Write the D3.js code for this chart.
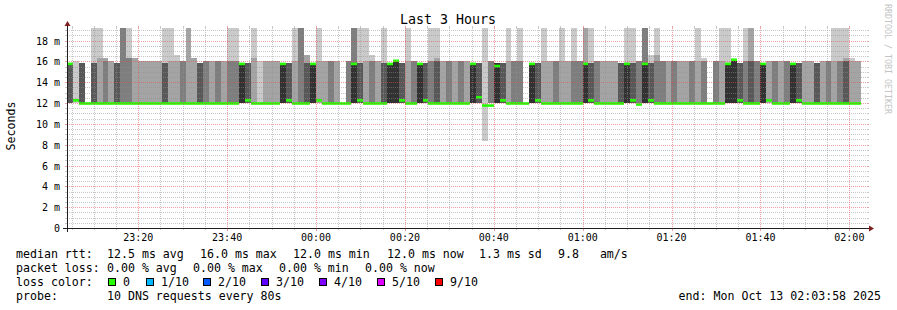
<!DOCTYPE html>
<html>
<head>
<meta charset="utf-8">
<script src="https://cdn.jsdelivr.net/npm/d3@7"></script>
<style>
  body { margin: 0; background: #fff; }
  text { font-family: "DejaVu Sans Mono", monospace; fill: #000; white-space: pre; }
</style>
</head>
<body>
<svg width="897" height="310"></svg>
<script>
// time range and probe
var endTime = new Date(2025, 9, 13, 2, 3, 58);
var startTime = new Date(endTime.getTime() - 3 * 3600 * 1000);
var stepSeconds = 80;
var pingCount = 10;
var floorRtt = 12.0;     // ms, where most replies land
var graphMax = 19.2;     // ms, top of the graph (taller smoke is clipped)

// replies per 80 s step that did NOT land on the 12 ms floor (ms); null = no data yet
var offFloor = [
  [15.8,15.8,15.8,15.8,15.8,15.8], [16], [15.8,15.8,15.8,15.8], [], [15.8,15.8,15.8,20],
  [16.3,20], [16,16.3,16.3], [16,16], [15.8,15.8,15.8,15.8], [20,20,20],
  [16.3,16.3,20], [16.3,16.3], [16,16], [16,16], [16,16],
  [16,16], [15.8,15.8,15.8,20], [16,20], [16,16.6], [16,16,16],
  [20,20], [16.3,16.3], [15.8,15.8,15.8,15.8], [16,16,16], [16,16],
  [16,16,16], [16,16], [16,16,20], [16,16,20], [15.8,15.8,15.8,15.8,15.8],
  [15.8,15.8,15.8,15.8], [16.3,20], [16], [16,16], [16,16],
  [16,16], [15.8,15.8,15.8,15.8,15.8], [15.8,15.8,15.8,15.8], [16,20], [20,20,20],
  [15.8,15.8,16.6,16.6], [15.8,15.8,15.8,15.8,15.8], [16,20], [16,16], [16,16,16],
  [16,16], [], [16,16,16], [15.8,15.8,20,20,20], [15.8,15.8,15.8,20],
  [16,20], [16,16,16.6], [16,16], [15.8,15.8,15.8,20], [15.8,15.8,15.8,15.8,15.8],
  [16.1,16.1,16.1,16.1,16.1], [15.8,15.8,15.8,15.8], [16,20], [16,16,16], [15.8,15.8,15.8,15.8,15.8],
  [15.8,15.8,15.8,15.8], [16,16,20], [16,16,16.3,20], [16,16], [16,16,16],
  [16,16], [16,16,16], [16,16], [15.8,15.8,15.8,15.8,15.8], [15.8,15.8,15.8,15.8],
  [8.4,20], [16,16,16], [15.8,15.8,15.8,15.8,15.8], [15.8,15.8,15.8,15.8], [16,20],
  [16,16,16], [16,16,20], [], [15.8,15.8,15.8,15.8,15.8], [15.8,15.8,15.8,15.8],
  [16,20], [16,16], [16,16,16], [16,20], [16,16],
  [16,16,20], [16,16,16], [15.8,15.8,15.8,20,20], [15.8,15.8,15.8,20], [16,16,16],
  [16,16], [16,16], [16,16], [15.8,15.8,15.8,15.8], [15.8,15.8,15.8,15.8,20],
  [15.8,15.8,15.8,20], [16,16,16], [15.8,15.8,20,20,20], [15.8,15.8,15.8,16.6], [16,16.6,20],
  [16,16,16], [16,16], [16,16,16], [16,16], [16,16],
  [16,16,16], [16,20], [16,16,16.3], [], [16,16,16],
  [16,20], [15.8,15.8,15.8,15.8,20], [16.2,16.2,16.2,16.2,16.2], [15.8,15.8,15.8,15.8], [16,16,20],
  [16,16,20,20], [16,16,16], [15.8,15.8,15.8,15.8,15.8], [16,16], [16,16,16],
  [16,16], [16,16,16], [15.8,15.8,15.8,15.8,15.8], [15.8,15.8,15.8,15.8], [16,16],
  [16,16], [15.8,15.8,15.8,15.8], [16,16], [16,16,16], [16,20],
  [16,16,20], [16,16,16.3,20], [16,16.3], [16,16], null
];

// median rtt per step (ms)
var medianRtt = [
  15.8,12.3,12,12,12,12,12,12,12,12,
  12,12,12,12,12,12,12,12,12,12,
  12,12,12,12,12,12,12,12,12,15.8,
  12.3,12,12,12,12,12,15.8,12.3,12,12,
  12,15.8,12.3,12,12,12,12,12,15.8,12.3,
  12,12,12,12,15.8,16.1,12.3,12,12,15.8,
  12.3,12,12,12,12,12,12,12,15.8,12.6,
  11.8,11.8,15.6,12.3,12,12,12,12,15.8,12.3,
  12,12,12,12,12,12,12,15.8,12.3,12,
  12,12,12,12,15.8,12.3,11.9,15.8,12.3,12,
  12,12,12,12,12,12,12,12,12,12,
  12,15.8,16.2,12.3,12,12,12,15.8,12.3,12,
  12,12,15.8,12.3,12,12,12,12,12,12,
  12,12,12,12,null
];

// axis labels
var yTicks = [0, 2, 4, 6, 8, 10, 12, 14, 16, 18];
var yTickLabels = ["0", "2 m", "4 m", "6 m", "8 m", "10 m", "12 m", "14 m", "16 m", "18 m"];

// legend
var rttStats = ["12.5 ms avg", "16.0 ms max", "12.0 ms min", "12.0 ms now", "1.3 ms sd", "9.8   am/s"];
var lossStats = ["0.00 % avg", "0.00 % max", "0.00 % min", "0.00 % now"];
var lossLabels = ["0", "1/10", "2/10", "3/10", "4/10", "5/10", "9/10"];
var lossColors = ["#26ff00", "#00b8ff", "#0059ff", "#5e00ff", "#7e00ff", "#dd00ff", "#ff0000"];
var probeText = "10 DNS requests every 80s";
var endText = "end: Mon Oct 13 02:03:58 2025";

// layout
var X0 = 67, X1 = 867, Y0 = 228, Y1 = 28;
var gridCol = "rgba(143,143,143,0.5)", mgridCol = "rgba(222,79,79,0.55)";

var svg = d3.select("svg");

// scales
var x = d3.scaleTime().domain([startTime, endTime]).range([X0, X1]);
var y = d3.scaleLinear().domain([0, graphMax]).range([Y0, Y1]);

// sorted pings per step
var steps = offFloor.map(function (list, k) {
  var t0 = new Date(startTime.getTime() + k * stepSeconds * 1000);
  var t1 = new Date(t0.getTime() + stepSeconds * 1000);
  if (!list) return { t0: t0, t1: t1, pings: null, median: null };
  var pings = list.slice();
  while (pings.length < pingCount) pings.push(floorRtt);
  pings.sort(d3.ascending);
  return { t0: t0, t1: t1, pings: pings, median: medianRtt[k] };
});

// smoke: pair i spans ping i .. ping (n-1-i), darker towards the middle
var half = pingCount / 2;
var smoke = [];
for (var i = 0; i < half; i++) {
  var c = Math.floor(190 / half * (half - (i + 1))) + 50;
  steps.forEach(function (s) {
    if (!s.pings) return;
    var lo = Math.min(s.pings[i], graphMax), hi = Math.min(s.pings[pingCount - 1 - i], graphMax);
    if (hi > lo) smoke.push({ s: s, lo: lo, hi: hi, col: d3.rgb(c, c, c) + "" });
  });
}

svg.append("g").selectAll("rect")
  .data(smoke)
  .enter().append("rect")
  .attr("x", function (d) { return Math.round(x(d.s.t0)); })
  .attr("width", function (d) { return Math.round(x(d.s.t1)) - Math.round(x(d.s.t0)); })
  .attr("y", function (d) { return Math.round(y(d.hi)); })
  .attr("height", function (d) { return Math.round(y(d.lo)) - Math.round(y(d.hi)); })
  .attr("fill", function (d) { return d.col; })
  .attr("shape-rendering", "crispEdges");

// median, coloured by loss (all 0 here)
svg.append("g").selectAll("rect")
  .data(steps.filter(function (s) { return s.median != null; }))
  .enter().append("rect")
  .attr("x", function (d) { return Math.round(x(d.t0)); })
  .attr("width", function (d) { return Math.round(x(d.t1)) - Math.round(x(d.t0)); })
  .attr("y", function (d) { return y(d.median) - 0.8; })
  .attr("height", 2.6)
  .attr("fill", lossColors[0]);

// horizontal grid
var grid = svg.append("g").attr("shape-rendering", "crispEdges");
var minorY = d3.range(0.5, graphMax, 0.5).filter(function (v) { return v % 2 !== 0; });
minorY.forEach(function (v) {
  var yy = Math.round(y(v)) + 0.5;
  grid.append("line").attr("x1", X0).attr("x2", X1).attr("y1", yy).attr("y2", yy)
    .attr("stroke", gridCol).attr("stroke-dasharray", "1,1");
  grid.append("line").attr("x1", X0 - 2).attr("x2", X0).attr("y1", yy).attr("y2", yy).attr("stroke", gridCol);
  grid.append("line").attr("x1", X1).attr("x2", X1 + 2).attr("y1", yy).attr("y2", yy).attr("stroke", gridCol);
});
yTicks.forEach(function (v) {
  var yy = Math.round(y(v)) + 0.5;
  if (v > 0) {
    grid.append("line").attr("x1", X0).attr("x2", X1).attr("y1", yy).attr("y2", yy)
      .attr("stroke", mgridCol).attr("stroke-dasharray", "1,1");
  }
  grid.append("line").attr("x1", X0 - 2).attr("x2", X0).attr("y1", yy).attr("y2", yy).attr("stroke", mgridCol);
  grid.append("line").attr("x1", X1).attr("x2", X1 + 2).attr("y1", yy).attr("y2", yy).attr("stroke", mgridCol);
});

// vertical grid: every 5 min, labelled every 20 min
var minorX = d3.timeMinute.every(5).range(startTime, endTime);
minorX.forEach(function (t) {
  var major = t.getMinutes() % 20 === 0;
  var xx = Math.round(x(t)) + 0.5;
  var col = major ? mgridCol : gridCol;
  grid.append("line").attr("x1", xx).attr("x2", xx).attr("y1", Y1).attr("y2", Y0)
    .attr("stroke", col).attr("stroke-dasharray", "1,1");
  grid.append("line").attr("x1", xx).attr("x2", xx).attr("y1", Y1 - 2).attr("y2", Y1).attr("stroke", col);
  grid.append("line").attr("x1", xx).attr("x2", xx).attr("y1", Y0).attr("y2", Y0 + (major ? 3 : 2)).attr("stroke", col);
});

// axes and arrows
svg.append("line").attr("x1", X0 - 4).attr("x2", X1 + 4).attr("y1", Y0 + 0.5).attr("y2", Y0 + 0.5)
  .attr("stroke", "#1f1f1f").attr("shape-rendering", "crispEdges");
svg.append("line").attr("x1", X0 + 0.5).attr("x2", X0 + 0.5).attr("y1", Y0 + 4).attr("y2", Y1 - 4)
  .attr("stroke", "#1f1f1f").attr("shape-rendering", "crispEdges");
svg.append("path").attr("d", d3.line()([[X1 + 2, Y0 - 2.5], [X1 + 2, Y0 + 3.5], [X1 + 7, Y0 + 0.5]]) + "Z")
  .attr("fill", "#801f1f");
svg.append("path").attr("d", d3.line()([[X0 - 2.5, Y1 - 2], [X0 + 3.5, Y1 - 2], [X0 + 0.5, Y1 - 7]]) + "Z")
  .attr("fill", "#801f1f");

// tick labels
svg.append("g").selectAll("text")
  .data(yTicks)
  .enter().append("text")
  .attr("x", 60).attr("y", function (d) { return y(d) + 4; })
  .attr("text-anchor", "end").attr("font-size", "10px")
  .text(function (d, i) { return yTickLabels[i]; });

svg.append("g").selectAll("text")
  .data(minorX.filter(function (t) { return t.getMinutes() % 20 === 0; }))
  .enter().append("text")
  .attr("x", function (d) { return x(d); }).attr("y", 241)
  .attr("text-anchor", "middle").attr("font-size", "10px")
  .text(d3.timeFormat("%H:%M"));

// title, axis name, watermark
svg.append("text").attr("x", 448).attr("y", 24).attr("text-anchor", "middle")
  .attr("font-size", "13.3px").text("Last 3 Hours");
svg.append("text").attr("transform", "translate(15,126) rotate(-90)").attr("text-anchor", "middle")
  .attr("font-size", "11.6px").text("Seconds");
svg.append("text").attr("transform", "translate(885,4) rotate(90)")
  .attr("font-size", "8.3px").style("fill", "#c4c4c4").text("RRDTOOL / TOBI OETIKER");

// legend
var lg = svg.append("g").attr("font-size", "11.6px");
lg.append("text").attr("x", 16).attr("y", 258).text("median rtt:");
var rttX = [107, 200, 293, 387, 479, 558];
rttStats.forEach(function (s, i) { lg.append("text").attr("x", rttX[i]).attr("y", 258).text(s); });
lg.append("text").attr("x", 16).attr("y", 272).text("packet loss:");
var lossX = [107, 193, 279, 365];
lossStats.forEach(function (s, i) { lg.append("text").attr("x", lossX[i]).attr("y", 272).text(s); });
lg.append("text").attr("x", 16).attr("y", 286).text("loss color:");
var boxX = [108, 146, 203, 261, 319, 377, 435];
lossLabels.forEach(function (s, i) {
  lg.append("rect").attr("x", boxX[i] + 0.5).attr("y", 278.5).attr("width", 7).attr("height", 7)
    .attr("fill", lossColors[i]).attr("stroke", "#000").attr("shape-rendering", "crispEdges");
  lg.append("text").attr("x", boxX[i] + 15).attr("y", 286).text(s);
});
lg.append("text").attr("x", 16).attr("y", 300).text("probe:");
lg.append("text").attr("x", 107).attr("y", 300).text(probeText);
lg.append("text").attr("x", 881).attr("y", 300).attr("text-anchor", "end").text(endText);
</script>
</body>
</html>
